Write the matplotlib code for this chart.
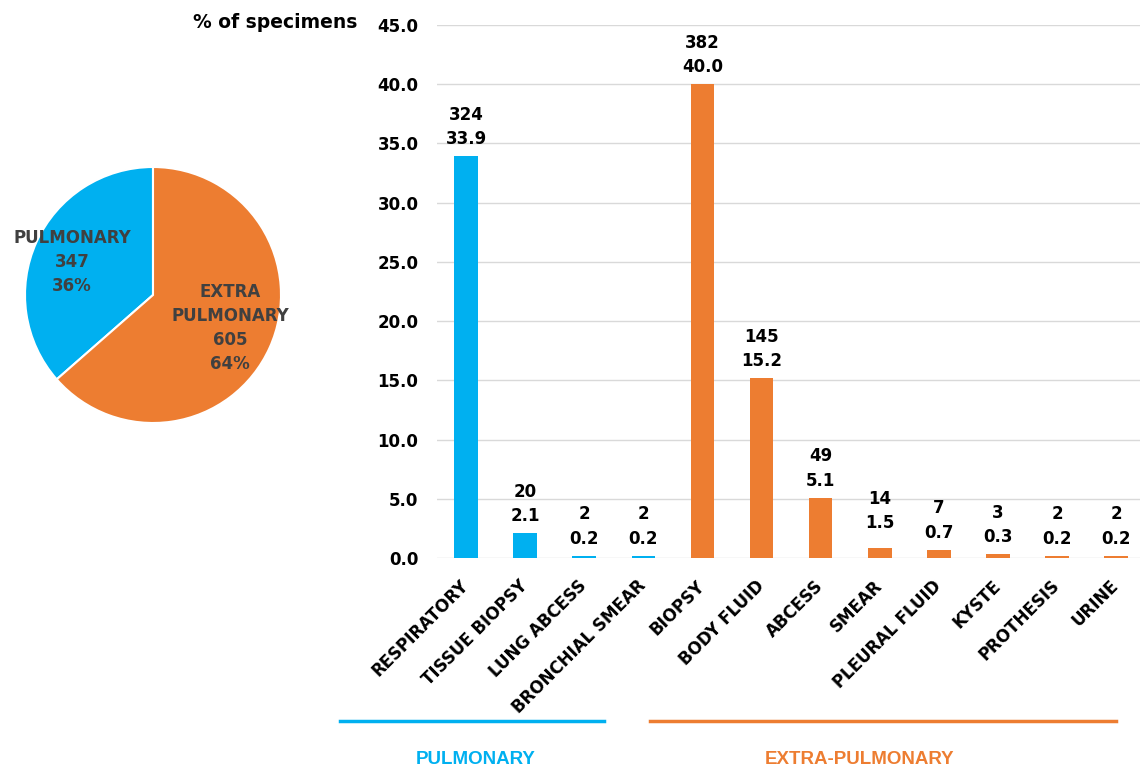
import matplotlib
matplotlib.use("Agg")
import matplotlib.pyplot as plt
from matplotlib import font_manager

# ---------------- data ----------------
categories = ["RESPIRATORY", "TISSUE BIOPSY", "LUNG ABCESS", "BRONCHIAL SMEAR",
              "BIOPSY", "BODY FLUID", "ABCESS", "SMEAR", "PLEURAL FLUID",
              "KYSTE", "PROTHESIS", "URINE"]
counts = [324, 20, 2, 2, 382, 145, 49, 14, 7, 3, 2, 2]
pct_labels = [33.9, 2.1, 0.2, 0.2, 40.0, 15.2, 5.1, 1.5, 0.7, 0.3, 0.2, 0.2]
bar_heights = [33.9, 2.1, 0.2, 0.2, 40.0, 15.2, 5.1, 0.85, 0.7, 0.3, 0.2, 0.2]
groups = ["PULMONARY"] * 4 + ["EXTRA-PULMONARY"] * 8

pie_labels = ["PULMONARY", "EXTRA\nPULMONARY"]
pie_counts = [347, 605]
pie_pcts = [36, 64]

yticks = [0, 5, 10, 15, 20, 25, 30, 35, 40, 45]

BLUE = "#00B0F0"
ORANGE = "#ED7D31"
group_colors = {"PULMONARY": BLUE, "EXTRA-PULMONARY": ORANGE}

# ---------------- fonts ----------------
avail = {f.name for f in font_manager.fontManager.ttflist}
ARIAL = "Liberation Sans" if "Liberation Sans" in avail else "DejaVu Sans"
plt.rcParams["font.family"] = ["DejaVu Sans"]
plt.rcParams["font.weight"] = "bold"

W, H = 1140, 769
fig = plt.figure(figsize=(W / 100, H / 100), dpi=100)
fig.patch.set_facecolor("white")


def fx(x):
    return x / W


def fy(y):
    return 1 - y / H


FS = 12

# ---------------- pie ----------------
cx, cy, r = 153, 295, 128
pax = fig.add_axes([fx(cx - r), fy(cy + r), 2 * r / W, 2 * r / H])
pax.pie(pie_counts, colors=[BLUE, ORANGE], startangle=90, counterclock=True,
        wedgeprops=dict(edgecolor="white", linewidth=1.5))
pax.set_xlim(-1, 1)
pax.set_ylim(-1, 1)
pax.axis("off")

pie_text_pos = [(72, 262), (230, 328)]
for lab, c, p, (tx, ty) in zip(pie_labels, pie_counts, pie_pcts, pie_text_pos):
    fig.text(fx(tx), fy(ty), f"{lab}\n{c}\n{p}%", ha="center", va="center",
             fontsize=FS, fontweight="bold", color="#404040", linespacing=1.45)

# ---------------- bars ----------------
x0, x1 = 436.5, 1145.6
ax = fig.add_axes([fx(x0), fy(558), (x1 - x0) / W, (558 - 25) / H])
xs = list(range(len(categories)))
ax.bar(xs, bar_heights, width=0.4,
       color=[group_colors[g] for g in groups], zorder=3)
ax.set_xlim(-0.5, len(categories) - 0.5)
ax.set_ylim(0, 45)
ax.set_yticks(yticks)
ax.set_yticklabels([f"{v:.1f}" for v in yticks], fontsize=FS, fontweight="bold")
ax.tick_params(axis="y", length=0, pad=13)
ax.grid(axis="y", color="#d9d9d9", linewidth=1, zorder=0)
for s in ax.spines.values():
    s.set_visible(False)

ax.set_xticks(xs)
ax.set_xticklabels(categories, rotation=45, ha="right", va="center",
                   rotation_mode="anchor", fontsize=FS, fontweight="bold")
ax.tick_params(axis="x", length=0, pad=18)

for i, (c, p) in enumerate(zip(counts, pct_labels)):
    ax.annotate(f"{c}\n{p:.1f}", (i, p), xytext=(0, 8), textcoords="offset pixels",
                ha="center", va="bottom", fontsize=FS, fontweight="bold",
                color="black", linespacing=1.45)

fig.text(fx(193), fy(22), "% of specimens", ha="left", va="center",
         fontsize=13.5, fontweight="bold")

# ---------------- group brackets ----------------
bracket_px = {"PULMONARY": (340, 604, 476), "EXTRA-PULMONARY": (650, 1116, 860)}
for g, (a, b, c) in bracket_px.items():
    fig.add_artist(plt.Line2D([fx(a), fx(b)], [fy(721), fy(721)],
                              color=group_colors[g], linewidth=2.5,
                              transform=fig.transFigure))
    fig.text(fx(c), fy(760), g, ha="center", va="center", fontsize=13.5,
             fontweight="bold", color=group_colors[g], family=[ARIAL, "DejaVu Sans"])

fig.savefig("out.png", dpi=100, facecolor="white")
